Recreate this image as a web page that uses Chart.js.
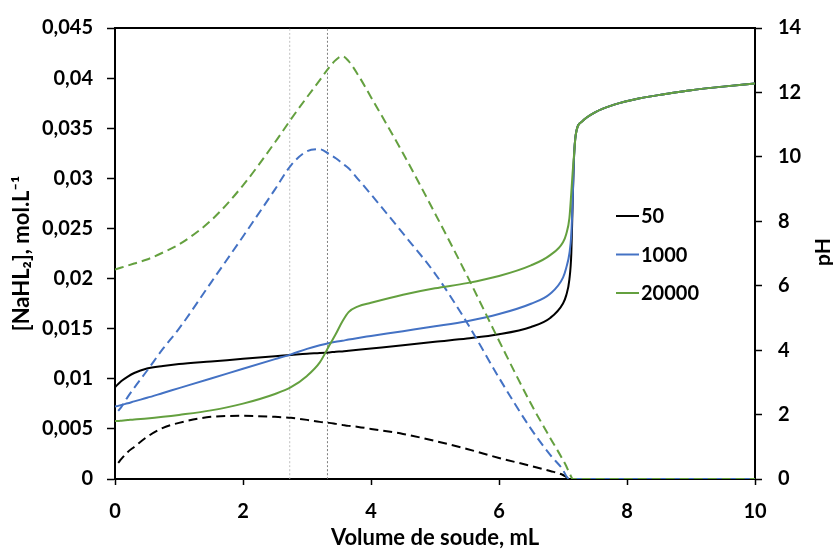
<!DOCTYPE html>
<html>
<head>
<meta charset="utf-8">
<title>NaHL2 / pH</title>
<script src="https://cdn.jsdelivr.net/npm/chart.js@4.4.1/dist/chart.umd.min.js"></script>
<style>
  html, body { margin: 0; padding: 0; background: #fff; }
  #wrap { width: 833px; height: 551px; }
</style>
</head>
<body>
<div id="wrap"><canvas id="titration-chart" width="833" height="551"></canvas></div>
<script>
// Data
// ------------------------------
var vol = [0, 0.05, 0.1, 0.2, 0.3, 0.5, 0.75, 1, 1.5, 2,
           2.5, 2.75, 3, 3.2, 3.35, 3.45, 3.55, 3.65, 3.8, 4,
           4.5, 5, 5.5, 6, 6.5, 6.8, 7, 7.05, 7.1, 7.13,
           7.15, 7.17, 7.2, 7.3, 7.5, 7.8, 8.2, 8.6, 9, 9.5, 10];

var seriesNames = ["50", "1000", "20000"];

// pH (right axis)
var ph50    = [2.85, 2.95, 3.04, 3.18, 3.29, 3.43, 3.51, 3.57, 3.65, 3.73,
               3.81, 3.85, 3.89, 3.91, 3.93, 3.95, 3.96, 3.98, 4.01, 4.05,
               4.15, 4.26, 4.36, 4.49, 4.72, 5.0, 5.45, 5.7, 6.2, 7.0,
               8.5, 9.9, 10.7, 11.1, 11.38, 11.62, 11.82, 11.95, 12.07, 12.18, 12.28];
var ph1000  = [2.25, 2.27, 2.3, 2.35, 2.41, 2.52, 2.67, 2.82, 3.12, 3.42,
               3.72, 3.87, 4.04, 4.15, 4.22, 4.26, 4.29, 4.33, 4.38, 4.44,
               4.59, 4.74, 4.9, 5.12, 5.44, 5.75, 6.25, 6.55, 7.0, 7.6,
               8.6, 9.9, 10.7, 11.1, 11.38, 11.62, 11.82, 11.95, 12.07, 12.18, 12.28];
var ph20000 = [1.8, 1.8, 1.81, 1.83, 1.85, 1.88, 1.93, 1.99, 2.13, 2.34,
               2.64, 2.85, 3.2, 3.62, 4.15, 4.5, 4.88, 5.18, 5.36, 5.47,
               5.72, 5.92, 6.08, 6.3, 6.63, 6.95, 7.35, 7.6, 8.1, 8.9,
               9.5, 10.0, 10.7, 11.1, 11.38, 11.62, 11.82, 11.95, 12.07, 12.18, 12.28];

// [NaHL2], mol/L (left axis)
var c50    = [null, 0.0016, 0.0020, 0.0027, 0.0032, 0.0042, 0.0051, 0.0056, 0.0062, 0.0063,
              0.0062, 0.0061, 0.0059, 0.0057, 0.0056, 0.0055, 0.0054, 0.0053, 0.0052, 0.0050,
              0.0045, 0.0038, 0.0030, 0.0021, 0.0013, 0.0008, 0.0004, 0.0002, 0, 0,
              0, 0, 0, 0, 0, 0, 0, 0, 0, 0, 0];
var c1000  = [null, 0.0068, 0.0072, 0.0082, 0.0091, 0.0108, 0.0130, 0.0150, 0.0196, 0.0242,
              0.0289, 0.0313, 0.0327, 0.0329, 0.0324, 0.0320, 0.0315, 0.0310, 0.0299, 0.0284,
              0.0245, 0.0205, 0.0156, 0.0101, 0.0050, 0.0024, 0.0009, 0.0003, 0, 0,
              0, 0, 0, 0, 0, 0, 0, 0, 0, 0, 0];
var c20000 = [0.0209, 0.0210, 0.0211, 0.0213, 0.0215, 0.0219, 0.0226, 0.0234, 0.0258, 0.0293,
              0.0336, 0.0359, 0.0381, 0.0398, 0.0411, 0.0418, 0.0422, 0.0417, 0.0403, 0.0381,
              0.0325, 0.0265, 0.0203, 0.0138, 0.0075, 0.0041, 0.0019, 0.0013, 0.0006, 0.0002,
              0, 0, 0, 0, 0, 0, 0, 0, 0, 0, 0];

// equivalence markers (mL)
var markers = [2.73, 3.32];

var colors = ["#000000", "#4472C4", "#64A03F"];
var markerColors = ["#BFBFBF", "#7F7F7F"];

function pts(ys) {
    return vol.map(function (v, i) { return { x: v, y: ys[i] }; });
}

function comma(v) {
    return parseFloat(v.toFixed(4)).toString().replace(".", ",");
}

Chart.defaults.font.family = "Lato, 'Open Sans', sans-serif";
Chart.defaults.font.size = 20;
Chart.defaults.font.weight = "bold";
Chart.defaults.color = "#000";

// Legend inside the plot + right axis title (reads bottom to top)
var insideLegend = {
    id: "insideLegend",
    afterDraw: function (chart) {
        var ctx = chart.ctx;
        ctx.save();
        ctx.font = "bold 20px Lato, 'Open Sans', sans-serif";
        ctx.textBaseline = "middle";
        ctx.textAlign = "left";
        seriesNames.forEach(function (name, i) {
            var y = 216 + i * 38.5;
            ctx.strokeStyle = colors[i];
            ctx.lineWidth = 2;
            ctx.beginPath();
            ctx.moveTo(616, y);
            ctx.lineTo(639, y);
            ctx.stroke();
            ctx.fillStyle = "#000";
            ctx.fillText(name, 641, y + 1);
        });
        ctx.font = "bold 21px Lato, 'Open Sans', sans-serif";
        ctx.translate(823, 252);
        ctx.rotate(-Math.PI / 2);
        ctx.textAlign = "center";
        ctx.fillText("pH", 0, 0);
        ctx.restore();
    }
};

var datasets = [];
[ph50, ph1000, ph20000].forEach(function (arr, i) {
    datasets.push({
        label: seriesNames[i], data: pts(arr), yAxisID: "y1",
        borderColor: colors[i], borderWidth: 2, order: 3 - i
    });
});
[c50, c1000, c20000].forEach(function (arr, i) {
    datasets.push({
        label: seriesNames[i] + " [NaHL2]", data: pts(arr), yAxisID: "y",
        borderColor: colors[i], borderWidth: 2, borderDash: [9, 5], order: 3 - i
    });
});
markers.forEach(function (m, i) {
    datasets.push({
        label: "marker " + m, data: [{ x: m, y: 0 }, { x: m, y: 0.045 }], yAxisID: "y",
        borderColor: markerColors[i], borderWidth: 1, borderDash: [2, 2], order: 10
    });
});

var tickGrid = function (len) {
    return { display: true, drawOnChartArea: false, drawTicks: true, tickLength: len, tickColor: "#000", tickWidth: 1.5 };
};

var ctx = document.getElementById("titration-chart");

var config = {
    type: "line",
    data: { datasets: datasets },
    options: {
        responsive: false,
        animation: false,
        layout: { padding: 0 },
        elements: {
            point: { radius: 0 },
            line: { cubicInterpolationMode: "monotone", fill: false }
        },
        plugins: { legend: { display: false }, tooltip: { enabled: false } },
        scales: {
            x: {
                type: "linear", position: "bottom", min: 0, max: 10,
                ticks: { stepSize: 2, padding: 15 },
                grid: tickGrid(6),
                border: { display: true, color: "#000", width: 2 },
                title: { display: true, text: "Volume de soude, mL", font: { size: 22 }, padding: { top: 0, bottom: 0 } },
                afterFit: function (s) { s.height = 72; }
            },
            x2: {
                type: "linear", position: "top", min: 0, max: 10,
                ticks: { display: false },
                grid: { display: false },
                border: { display: true, color: "#000", width: 2 },
                afterFit: function (s) { s.height = 25; }
            },
            y: {
                type: "linear", position: "left", min: 0, max: 0.045,
                ticks: { stepSize: 0.005, padding: 14, callback: function (v) { return comma(v); } },
                grid: tickGrid(8),
                border: { display: true, color: "#000", width: 2 },
                title: { display: true, text: "[NaHL\u2082], mol.L\u207B\u00B9", font: { size: 22 }, padding: { top: 9, bottom: 0 } },
                afterFit: function (s) { s.width = 115; }
            },
            y1: {
                type: "linear", position: "right", min: 0, max: 14,
                ticks: { stepSize: 2, padding: 16 },
                grid: tickGrid(7),
                border: { display: true, color: "#000", width: 2 },
                afterFit: function (s) { s.width = 78; }
            }
        }
    },
    plugins: [insideLegend]
};

var titrationChart = new Chart(ctx, config);
</script>
</body>
</html>
